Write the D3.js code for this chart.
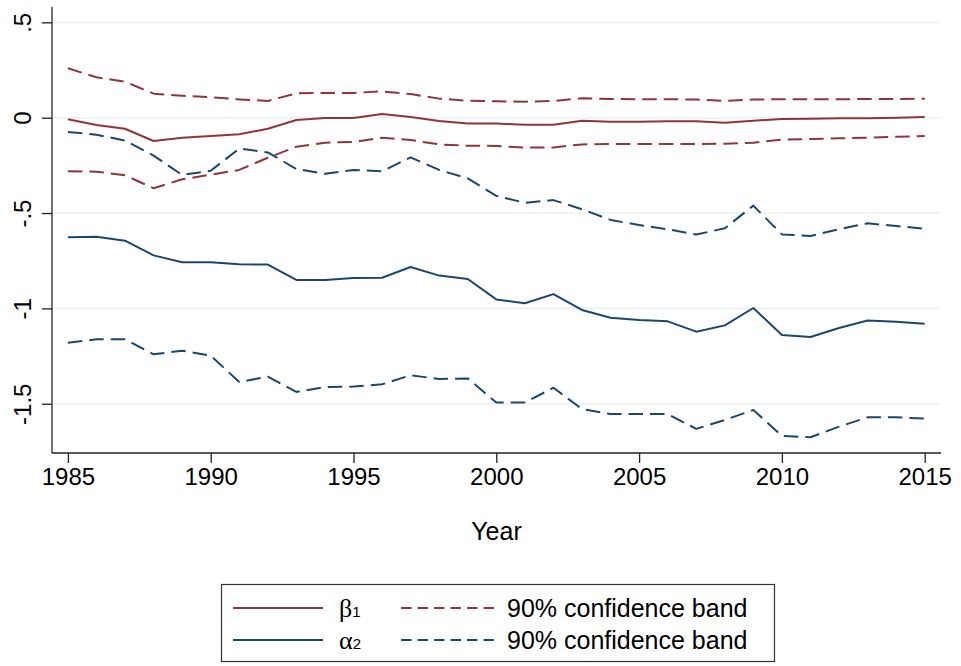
<!DOCTYPE html>
<html>
<head>
<meta charset="utf-8">
<script src="https://cdn.jsdelivr.net/npm/d3@7"></script>
<style>
  html, body { margin: 0; padding: 0; background: #fff; }
  svg { display: block; }
  text { font-family: "Liberation Sans", Arial, sans-serif; fill: #000; }
</style>
</head>
<body>
<svg id="chart" width="961" height="666"></svg>
<script>
const years = d3.range(1985, 2016);

const beta1 = [-0.008,-0.038,-0.058,-0.122,-0.105,-0.096,-0.087,-0.058,-0.012,-0.002,
  -0.002,0.019,0.004,-0.017,-0.030,-0.031,-0.037,-0.037,-0.016,-0.021,
  -0.021,-0.019,-0.019,-0.026,-0.016,-0.007,-0.005,-0.003,-0.003,0.000,0.004];
const beta1Upper = [0.259,0.212,0.189,0.126,0.115,0.107,0.096,0.088,0.128,0.130,
  0.130,0.138,0.124,0.100,0.089,0.086,0.084,0.088,0.102,0.098,
  0.097,0.097,0.095,0.088,0.095,0.097,0.097,0.097,0.098,0.098,0.100];
const beta1Lower = [-0.281,-0.283,-0.302,-0.370,-0.323,-0.299,-0.274,-0.210,-0.152,-0.131,
  -0.127,-0.105,-0.117,-0.140,-0.147,-0.148,-0.157,-0.156,-0.140,-0.138,
  -0.138,-0.138,-0.138,-0.136,-0.131,-0.115,-0.112,-0.108,-0.105,-0.100,-0.096];

const alpha2 = [-0.627,-0.624,-0.645,-0.722,-0.758,-0.758,-0.769,-0.770,-0.851,-0.851,
  -0.840,-0.839,-0.783,-0.828,-0.846,-0.953,-0.973,-0.925,-1.008,-1.049,
  -1.061,-1.068,-1.122,-1.089,-0.998,-1.140,-1.150,-1.103,-1.063,-1.070,-1.080];
const alpha2Upper = [-0.075,-0.089,-0.120,-0.199,-0.300,-0.278,-0.162,-0.182,-0.269,-0.294,
  -0.274,-0.281,-0.208,-0.274,-0.318,-0.410,-0.446,-0.432,-0.480,-0.536,
  -0.563,-0.585,-0.613,-0.580,-0.461,-0.612,-0.620,-0.585,-0.554,-0.568,-0.582];
const alpha2Lower = [-1.180,-1.162,-1.162,-1.241,-1.222,-1.248,-1.386,-1.358,-1.438,-1.412,
  -1.410,-1.398,-1.351,-1.370,-1.367,-1.494,-1.494,-1.416,-1.528,-1.554,
  -1.554,-1.554,-1.632,-1.585,-1.533,-1.669,-1.676,-1.620,-1.571,-1.571,-1.578];

const xTicks = [1985, 1990, 1995, 2000, 2005, 2010, 2015];
const yTicks = [0.5, 0, -0.5, -1, -1.5];
const yTickLabels = [".5", "0", "-.5", "-1", "-1.5"];

const RED = "#90353b", BLUE = "#1a476f", GRID = "#eaf2f3";

const svg = d3.select("#chart");
const plot = { left: 52, right: 941, top: 7, bottom: 453 };

const x = d3.scaleLinear().domain([1985, 2015]).range([67.9, 924.7]);
const y = d3.scaleLinear().domain([-1.7583, 0.5805]).range([plot.bottom, plot.top]);

// gridlines
svg.append("g").selectAll("line").data(yTicks).join("line")
  .attr("x1", plot.left).attr("x2", plot.right)
  .attr("y1", d => y(d)).attr("y2", d => y(d))
  .attr("stroke", GRID).attr("stroke-width", 1.6);

// y axis
const yAxis = svg.append("g").attr("transform", `translate(${plot.left},0)`)
  .call(d3.axisLeft(y).tickValues(yTicks).tickSize(10).tickFormat((d, i) => yTickLabels[i]));
yAxis.select(".domain").attr("d", `M0,${plot.top}V${plot.bottom}`).attr("stroke", "#222").attr("stroke-width", 1.3);
yAxis.selectAll(".tick line").attr("stroke", "#222").attr("stroke-width", 1.3);
yAxis.selectAll(".tick text")
  .attr("x", null).attr("dy", null)
  .attr("transform", "translate(-21,0) rotate(-90)")
  .attr("text-anchor", "middle")
  .style("font-family", "'Liberation Sans', Arial, sans-serif")
  .style("font-size", "24px").attr("fill", "#000");

// x axis
const xAxis = svg.append("g").attr("transform", `translate(0,${plot.bottom})`)
  .call(d3.axisBottom(x).tickValues(xTicks).tickSize(10).tickFormat(d3.format("d")));
xAxis.select(".domain").attr("d", `M${plot.left},0H${plot.right}`).attr("stroke", "#222").attr("stroke-width", 1.3);
xAxis.selectAll(".tick line").attr("stroke", "#222").attr("stroke-width", 1.3);
xAxis.selectAll(".tick text")
  .attr("y", 32).attr("dy", null)
  .style("font-family", "'Liberation Sans', Arial, sans-serif")
  .style("font-size", "24px").attr("fill", "#000");

svg.append("text").attr("x", (plot.left + plot.right) / 2).attr("y", 540)
  .attr("text-anchor", "middle").style("font-size", "25px").text("Year");

// lines
const line = d3.line().x((d, i) => x(years[i])).y(d => y(d));
const series = [
  { data: beta1Upper, color: RED, dash: "14.5,7" },
  { data: beta1Lower, color: RED, dash: "14.5,7" },
  { data: alpha2Upper, color: BLUE, dash: "14.5,7" },
  { data: alpha2Lower, color: BLUE, dash: "14.5,7" },
  { data: beta1, color: RED, dash: null },
  { data: alpha2, color: BLUE, dash: null }
];
svg.append("g").selectAll("path").data(series).join("path")
  .attr("d", d => line(d.data))
  .attr("fill", "none").attr("stroke", d => d.color)
  .attr("stroke-width", 2).attr("stroke-linejoin", "round")
  .attr("stroke-dasharray", d => d.dash);

// legend
const lg = svg.append("g");
lg.append("rect").attr("x", 221.5).attr("y", 584.5).attr("width", 553).attr("height", 77)
  .attr("fill", "#fff").attr("stroke", "#333").attr("stroke-width", 1.2);

const legendRows = [
  { sym: "β", sub: "1", color: RED, y: 608 },
  { sym: "α", sub: "2", color: BLUE, y: 640 }
];
legendRows.forEach(r => {
  lg.append("line").attr("x1", 233).attr("x2", 323).attr("y1", r.y).attr("y2", r.y)
    .attr("stroke", r.color).attr("stroke-width", 2);
  const t = lg.append("text").attr("x", 339).attr("y", r.y + 9);
  t.append("tspan").text(r.sym)
    .style("font-family", "'Liberation Serif', 'DejaVu Serif', serif").style("font-size", "26px");
  t.append("tspan").text(r.sub).style("font-size", "15px");
  lg.append("line").attr("x1", 401).attr("x2", 496).attr("y1", r.y).attr("y2", r.y)
    .attr("stroke", r.color).attr("stroke-width", 2).attr("stroke-dasharray", "10.5,6");
  lg.append("text").attr("x", 507).attr("y", r.y + 9)
    .style("font-size", "25px").text("90% confidence band");
});
</script>
</body>
</html>
